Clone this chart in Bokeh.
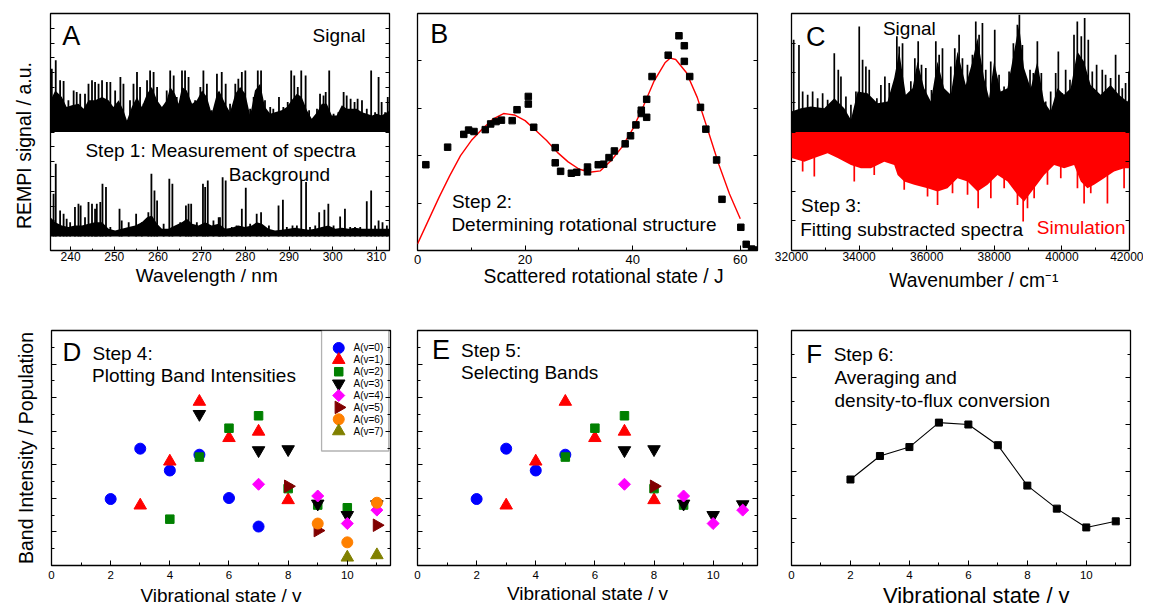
import math
from bokeh.plotting import figure
from bokeh.models import Range1d, LinearAxis, FixedTicker, Label, BoxAnnotation
from bokeh.layouts import row, column
from bokeh.embed import file_html
from bokeh.resources import INLINE

FONT = "Liberation Sans"
NB = "\u00a0"

# ---------------- Panel A: REMPI spectra (wavelength / nm) ----------------
a_sig_base = 8.0
a_sig_env_x = [235.4, 236.5, 238.0, 239.1, 240.3, 241.8, 243.0, 244.1, 245.6, 247.2, 248.7, 249.8,
               251.0, 252.1, 252.9, 254.0, 255.2, 256.3, 257.5, 258.6, 259.8, 260.9, 262.0, 262.8,
               263.9, 264.7, 265.5, 266.6, 267.8, 268.9, 270.1, 271.2, 272.3, 273.5,
               274.0, 275.4, 276.5, 277.7, 278.8, 280.0, 281.1, 282.2, 283.4, 284.5, 285.7, 286.8,
               288.3, 289.5, 290.6, 291.8, 292.9, 294.1, 295.2, 296.4, 297.5, 298.65, 299.8, 300.9,
               302.1, 303.2, 304.4, 305.5, 306.7, 307.8, 309.0, 310.1, 311.2, 312.4, 313.2]
a_sig_env_y = [10.14, 10.81, 10.36, 9.68, 9.80, 9.91, 9.57, 10.14, 10.14, 10.36, 10.14, 9.68,
               10.14, 9.46, 8.78, 9.68, 10.36, 9.68, 10.59, 11.03, 10.14, 9.68, 10.14, 11.03,
               10.59, 9.91, 11.03, 10.81, 9.91, 10.14, 10.81, 10.36, 9.23, 10.59,
               10.81, 9.91, 9.34, 10.59, 11.03, 10.59, 9.12, 10.81, 11.26, 9.68, 9.23, 9.34,
               9.46, 9.68, 10.14, 10.59, 10.36, 9.46, 8.89, 9.34, 9.91, 9.91, 9.12, 9.12,
               9.80, 9.57, 9.57, 9.57, 9.34, 9.23, 9.12, 9.23, 9.12, 9.34, 9.46]
a_sig_peak_x = [235.7, 236.6, 237.6, 238.4, 239.5, 240.7, 241.4, 242.2, 243.3, 244.1, 244.9, 245.6,
                246.4, 247.2, 248.3, 249.1, 250.2, 251.4, 252.1, 253.6, 254.4, 255.2, 255.9, 256.7,
                257.5, 258.2, 259.0, 259.8, 260.9, 262.0, 262.8, 263.6, 264.3, 265.5, 266.2, 267.0,
                268.5, 269.7, 270.4, 271.2, 272.3, 273.5,
                274.6, 275.5, 276.5, 277.7, 278.4, 279.2, 280.0, 281.1, 281.9, 282.85, 283.6, 284.5,
                285.7, 286.4, 287.7, 288.7, 289.7, 290.5, 291.2, 292.0, 292.8, 293.8, 294.6, 296.4,
                297.1, 297.9, 298.4, 299.2, 300.2, 301.3, 302.5, 303.2, 304.1, 305.0, 305.7, 306.7,
                307.8, 308.8, 309.7, 310.5, 311.2, 312.0, 312.6]
a_sig_peak_y = [12.27, 12.84, 11.49, 11.45, 10.14, 10.81, 10.70, 10.59, 10.59, 11.26, 11.49, 11.37,
                11.26, 11.49, 11.37, 11.37, 10.81, 11.71, 11.26, 10.14, 11.26, 12.05, 11.03, 9.91,
                11.49, 12.16, 12.05, 11.03, 9.68, 10.81, 12.16, 11.82, 10.36, 12.16, 12.16, 11.71,
                10.14, 11.03, 12.16, 11.26, 9.46, 11.94,
                12.05, 11.26, 9.91, 11.26, 11.60, 12.05, 12.16, 9.57, 10.36, 12.16, 12.16, 10.14,
                9.68, 9.57, 10.36, 9.68, 10.02, 12.16, 11.82, 11.03, 12.16, 11.82, 9.46, 9.57,
                10.59, 10.47, 10.70, 12.16, 9.23, 9.34, 10.70, 10.47, 10.25, 10.02, 10.25, 10.14,
                9.57, 12.16, 9.34, 11.71, 10.02, 9.34, 10.36]

a_bg_base = 0.95
a_bg_env_x = [235.4, 236.5, 238.0, 239.5, 241.0, 242.6, 244.1, 245.6, 247.2, 248.7, 250.2, 251.7,
              253.3, 254.8, 256.3, 257.5, 258.6, 259.8, 260.9, 262.4, 263.9, 265.5, 266.6, 267.8,
              269.3, 270.8, 272.3, 273.9,
              275.4, 276.9, 278.4, 279.9, 281.5, 282.6, 283.8, 285.3, 286.8, 288.3, 289.9, 291.4,
              292.9, 294.5, 296.0, 297.5, 299.0, 300.6, 302.1, 303.6, 305.1, 306.7, 308.2, 309.7,
              311.2, 313.2]
a_bg_env_y = [2.25, 1.91, 1.69, 1.58, 1.69, 1.69, 1.80, 1.91, 1.91, 1.46, 1.35, 1.46,
              1.58, 1.69, 1.91, 2.25, 2.36, 1.80, 1.46, 1.46, 1.69, 1.91, 2.14, 1.80,
              1.69, 1.91, 1.69, 1.80,
              1.46, 1.53, 1.69, 1.58, 1.69, 1.91, 1.80, 1.46, 1.35, 1.40, 1.46, 1.53,
              1.46, 1.40, 1.46, 1.58, 1.69, 1.46, 1.53, 1.46, 1.53, 1.46, 1.46, 1.46,
              1.46, 1.46]
a_bg_peak_x = [236.1, 236.6, 237.6, 238.4, 239.1, 239.9, 241.0, 241.8, 242.3, 243.3, 244.1, 244.9,
               245.6, 246.0, 246.8, 247.3, 248.1, 249.1, 251.2, 251.7, 253.3, 255.0, 256.3, 257.8,
               258.5, 259.2, 259.8, 261.3, 262.6, 263.3, 265.1, 266.4, 267.0, 267.6, 268.9, 270.3,
               270.8, 271.4, 272.7, 273.9,
               274.2, 274.8, 275.5, 276.9, 278.0, 279.2, 280.1, 281.1, 282.6, 283.6, 284.5, 285.4,
               287.6, 288.6, 289.5, 290.8, 291.8, 292.8, 293.9, 294.8, 296.0, 296.9, 298.1, 299.0,
               300.2, 301.7, 302.8, 304.0, 305.1, 306.3, 307.8, 308.8, 309.7, 310.5, 311.4, 312.4]
a_bg_peak_y = [3.83, 5.86, 2.70, 2.48, 2.14, 1.91, 2.93, 3.15, 3.04, 2.25, 3.27, 3.15,
               2.82, 3.15, 3.27, 4.50, 4.28, 1.58, 2.82, 2.03, 1.91, 2.48, 1.91, 2.59,
               5.18, 4.05, 3.38, 1.80, 4.84, 4.50, 1.91, 3.04, 3.15, 3.15, 1.91, 4.50,
               4.28, 4.73, 2.03, 2.25,
               2.25, 4.95, 4.73, 1.58, 1.69, 2.82, 4.23, 1.80, 2.48, 2.59, 1.58, 1.69,
               3.04, 3.42, 1.58, 1.69, 1.69, 4.77, 4.62, 1.58, 1.69, 2.59, 2.75, 3.15,
               1.69, 2.30, 2.82, 1.58, 1.58, 1.58, 3.33, 4.05, 1.69, 2.03, 1.91, 1.69]

# ---------------- Panel B: rotational distribution ----------------
b_j = [1.55, 5.6, 8.6, 9.5, 10.5, 12.6, 13.6, 14.6, 15.6, 17.6, 18.5, 20.6, 20.6, 21.6, 25.6, 25.6,
       26.6, 28.6, 29.6, 31.6, 31.6, 33.6, 34.6, 35.6, 36.6, 38.6, 39.6, 40.6, 41.6, 41.6, 42.6,
       42.6, 43.6, 46.6, 48.6, 49.6, 49.6, 50.6, 52.6, 53.6, 55.6, 56.6, 60.1, 61.1, 62.1, 62.9]
b_pop = [1.81, 2.18, 2.45, 2.54, 2.51, 2.55, 2.67, 2.72, 2.75, 2.74, 2.97, 3.25, 3.09, 2.60, 2.17,
         1.85, 1.67, 1.63, 1.65, 1.76, 1.66, 1.81, 1.82, 1.96, 2.10, 2.25, 2.42, 2.65, 2.96, 2.89,
         3.19, 2.81, 3.67, 4.12, 4.53, 4.32, 3.99, 3.67, 3.02, 2.56, 1.91, 1.08, 0.49, 0.13, 0.03,
         0.01]
b_fit_j = [0, 2, 4, 6, 8, 10, 12, 14, 16, 18, 20, 22, 24, 26, 28, 30, 32, 34, 36, 38, 40, 42, 44,
           46, 47, 48, 50, 52, 54, 56, 58, 60]
b_fit_y = [0.14, 0.63, 1.12, 1.58, 2.00, 2.32, 2.56, 2.77, 2.89, 2.86, 2.74, 2.53, 2.32, 2.07, 1.87,
           1.72, 1.65, 1.68, 1.90, 2.18, 2.56, 3.05, 3.58, 3.96, 4.06, 4.03, 3.75, 3.23, 2.53, 1.82,
           1.19, 0.67]

# ---------------- Panel C: signal vs simulation (wavenumber) ----------------
c_sig_env_x = [32000, 32281, 32576, 32970, 33266, 33561, 33758, 33955, 34251, 34546, 34842, 35039,
               35186, 35383, 35580, 35728, 35925, 36122, 36319, 36516, 36713, 36910, 37156, 37353,
               37501, 37698, 37846, 37994, 38190, 38388, 38585, 38732, 38880, 39077, 39274, 39471,
               39668, 39865, 40062, 40259, 40456, 40653, 40850, 41146, 41441, 41687, 41934, 42000]
c_sig_env_y = [0.69, 0.80, 0.86, 0.80, 1.14, 0.80, 0.41, 1.37, 1.31, 0.97, 1.03, 1.82,
               2.72, 1.26, 1.48, 2.38, 1.48, 1.03, 2.38, 1.48, 1.26, 2.72, 1.59, 2.38,
               3.17, 1.82, 1.14, 2.38, 1.37, 1.48, 2.72, 3.62, 2.16, 1.48, 2.38, 1.03,
               0.69, 1.48, 1.26, 1.48, 2.72, 2.38, 1.59, 1.26, 1.59, 1.26, 1.03, 1.14]
c_sig_peak_x = [32064, 32221, 32330, 32478, 32625, 32773, 32921, 33069, 33266, 33384, 33463, 33610,
                33758, 33906, 34004, 34103, 34201, 34300, 34398, 34526, 34645, 34763, 34891, 34989,
                35117, 35186, 35285, 35433, 35531, 35649, 35748, 35846, 35974, 36142, 36270, 36368,
                36467, 36595, 36713, 36831, 36959, 37058, 37206, 37353, 37452, 37550, 37649, 37747,
                37895, 38013, 38141, 38289, 38437, 38565, 38683, 38742, 38831, 38959, 39057, 39156,
                39274, 39392, 39520, 39668, 39816, 39895, 40013, 40111, 40239, 40358, 40456, 40574,
                40673, 40781, 40899, 41027, 41195, 41293, 41441, 41589, 41687, 41786, 41884, 41983]
c_sig_peak_y = [3.11, 2.94, 1.37, 1.26, 1.37, 1.14, 1.31, 1.09, 2.66, 2.10, 1.87, 1.20,
                0.92, 1.37, 3.56, 2.44, 2.21, 2.10, 1.09, 1.14, 1.59, 1.87, 1.65, 1.03,
                3.23, 2.89, 3.00, 1.20, 1.71, 2.49, 3.06, 2.27, 2.16, 1.42, 3.06, 2.61,
                2.83, 1.26, 2.21, 2.83, 3.28, 2.49, 2.27, 2.61, 3.73, 3.28, 3.68, 2.10,
                2.38, 3.45, 1.93, 1.54, 2.04, 3.00, 3.62, 3.96, 2.94, 1.54, 2.10, 1.99,
                3.06, 1.99, 1.03, 1.37, 1.99, 2.72, 1.31, 2.10, 1.76, 3.28, 3.73, 3.23,
                3.85, 3.11, 2.04, 2.27, 2.10, 1.93, 1.82, 2.61, 1.93, 1.48, 1.65, 2.04]
c_sim_env_x = [32000, 32379, 32675, 33069, 33365, 33759, 34054, 34350, 34744, 35039, 35138, 35335,
               35631, 36025, 36321, 36616, 36912, 37208, 37503, 37799, 38095, 38391, 38686, 38883,
               39179, 39475, 39770, 40066, 40361, 40558, 40755, 40952, 41248, 41544, 41840, 42000]
c_sim_env_y = [-0.88, -1.00, -0.88, -0.72, -0.88, -1.11, -1.22, -1.22, -1.00, -1.11, -1.45, -1.67,
               -1.78, -1.90, -2.01, -1.90, -1.56, -1.67, -2.01, -1.78, -1.45, -1.67, -2.12, -2.35,
               -1.90, -1.45, -1.11, -1.22, -1.11, -1.67, -1.90, -1.78, -1.56, -1.33, -1.22, -1.22]
c_sim_peak_x = [32330, 32675, 33857, 34448, 35335, 36025, 36321, 36764, 37208, 37523, 37898, 38292,
                38686, 38854, 38982, 39179, 39573, 39967, 40460, 40657, 40854, 41347, 41840]
c_sim_peak_y = [-1.33, -1.50, -1.67, -1.45, -1.95, -2.18, -2.46, -2.07, -2.12, -2.57, -2.24, -1.90,
                -2.46, -3.02, -2.57, -2.24, -1.78, -1.56, -1.90, -2.41, -2.07, -2.41, -1.90]

# ---------------- Panels D/E: band intensities per A-state vibrational level ----------------
band_labels = ["A(v=0)", "A(v=1)", "A(v=2)", "A(v=3)", "A(v=4)", "A(v=5)", "A(v=6)", "A(v=7)"]
v0_x = [2, 3, 4, 5, 6, 7];        v0_y = [1.98, 3.48, 2.83, 3.30, 2.01, 1.16]
v1_x = [3, 4, 5, 6, 7, 8];        v1_y = [1.79, 3.10, 4.88, 3.80, 3.99, 1.95]
v2_x = [4, 5, 6, 7, 8, 9, 10];    v2_y = [1.38, 3.23, 4.09, 4.46, 2.29, 1.80, 1.72]
v3_x = [5, 7, 8, 9, 10, 11];      v3_y = [4.51, 3.43, 3.46, 1.84, 1.50, 1.82]
v4_x = [7, 9, 10, 11];            v4_y = [2.42, 2.07, 1.25, 1.65]
v5_x = [8, 9, 11];                v5_y = [2.36, 1.04, 1.20]
v6_x = [9, 10, 11];               v6_y = [1.25, 0.69, 1.87]
v7_x = [10, 11];                  v7_y = [0.24, 0.31]
# states kept in step 5 (panel E)
sel_v0 = [2, 3, 4, 5]
sel_v1 = [3, 4, 5, 6, 7, 8]
sel_v2 = [5, 6, 7, 8, 9]
sel_v3 = [7, 8, 9, 10, 11]
sel_v4 = [7, 9, 10, 11]
sel_v5 = [8]
sel_v6 = []
sel_v7 = []

# ---------------- Panel F: averaged flux ----------------
f_v = [2, 3, 4, 5, 6, 7, 8, 9, 10, 11]
f_pop = [1.83, 2.33, 2.52, 3.04, 3.00, 2.56, 1.70, 1.21, 0.81, 0.94]

# ---------------- styling ----------------
series_xy = [(v0_x, v0_y), (v1_x, v1_y), (v2_x, v2_y), (v3_x, v3_y),
             (v4_x, v4_y), (v5_x, v5_y), (v6_x, v6_y), (v7_x, v7_y)]
series_sel = [sel_v0, sel_v1, sel_v2, sel_v3, sel_v4, sel_v5, sel_v6, sel_v7]
series_style = [("circle", "#0000FF", 11, 0.0),
                ("triangle", "#FF0000", 12.5, 0.0),
                ("square", "#008000", 8.5, 0.0),
                ("inverted_triangle", "#000000", 12.5, 0.0),
                ("square", "#FF00FF", 8.5, math.pi / 4),
                ("triangle", "#800000", 12.5, -math.pi / 2),
                ("circle", "#FF8000", 11, 0.0),
                ("triangle", "#808000", 12.5, 0.0)]


def make_fig(w, h, bl, br, bt, bb, xr, yr):
    p = figure(width=w, height=h, x_range=Range1d(*xr), y_range=Range1d(*yr),
               output_backend="svg", toolbar_location=None,
               x_axis_location=None, y_axis_location=None,
               min_border_left=bl, min_border_right=br,
               min_border_top=bt, min_border_bottom=bb)
    p.grid.visible = False
    p.outline_line_color = "black"
    p.outline_line_width = 1.3
    p.background_fill_color = "white"
    p.border_fill_color = "white"
    return p


def style_axis(ax):
    ax.major_tick_out = 0
    ax.minor_tick_out = 0
    ax.axis_line_color = None
    ax.major_tick_line_color = "black"
    ax.minor_tick_line_color = "black"
    ax.major_label_text_font = FONT
    ax.major_label_text_color = "black"
    ax.axis_label_text_font = FONT
    ax.axis_label_text_font_style = "normal"
    ax.axis_label_text_color = "black"
    ax.major_label_standoff = 0
    ax.axis_label_standoff = 0


def add_x(p, xt, xm, xlabel, tick_size, tick_so, lab_so, lab_size, maj=5, mnr=3):
    xb = LinearAxis(ticker=FixedTicker(ticks=xt, minor_ticks=xm), axis_label=xlabel)
    style_axis(xb)
    xb.major_tick_in = maj
    xb.minor_tick_in = mnr
    xb.major_label_text_font_size = tick_size
    xb.major_label_standoff = tick_so
    xb.axis_label_standoff = lab_so
    xb.axis_label_text_font_size = lab_size
    p.add_layout(xb, "below")


def add_y(p, long_ticks, short_ticks, long_len, short_len, ylabel=None, ylab_so=0):
    # tick marks only (no tick labels), mirrored left and right
    for side in ("left", "right"):
        groups = [(long_ticks, long_len), (short_ticks, short_len)]
        groups = [g for g in groups if g[0]]
        for k, (tk, ln) in enumerate(groups):
            ya = LinearAxis(ticker=FixedTicker(ticks=[], minor_ticks=tk))
            style_axis(ya)
            ya.minor_tick_in = ln
            if side == "left" and ylabel and k == len(groups) - 1:
                ya.axis_label = ylabel
                ya.axis_label_text_font_size = "19.5px"
                ya.axis_label_standoff = ylab_so
            p.add_layout(ya, side)


def txt(p, x, y, s, size="19px", color="black"):
    p.add_layout(Label(x=x, y=y, text=s, text_font=FONT, text_font_size=size,
                       text_color=color, text_baseline="middle", text_align="left"))


# ---------------- A ----------------
pA = make_fig(393, 304, 50, 4, 13, 54, (235.4, 313.0), (0, 16))
add_x(pA, list(range(240, 311, 10)), list(range(245, 311, 10)),
      "Wavelength / nm" + NB * 5, "12px", 1, 1, "19px", maj=4, mnr=2)
add_y(pA, list(range(1, 16)), [], 4, 0, ylabel="REMPI signal / a.u." + NB * 5, ylab_so=16)
pA.varea(x=a_sig_env_x, y1=a_sig_base, y2=a_sig_env_y, fill_color="black")
pA.segment(x0=a_sig_peak_x, y0=a_sig_base, x1=a_sig_peak_x, y1=a_sig_peak_y,
           line_color="black", line_width=1.8)
pA.varea(x=a_bg_env_x, y1=a_bg_base, y2=a_bg_env_y, fill_color="black")
pA.segment(x0=a_bg_peak_x, y0=a_bg_base, x1=a_bg_peak_x, y1=a_bg_peak_y,
           line_color="black", line_width=1.8)
txt(pA, 238.1, 14.49, "A", "27px")
txt(pA, 295.4, 14.49, "Signal")
txt(pA, 243.4, 6.78, "Step 1: Measurement of spectra")
txt(pA, 276.2, 5.12, "Background")

# ---------------- B ----------------
pB = make_fig(374, 304, 24, 10, 13, 54, (0, 63.2), (0, 5))
add_x(pB, [0, 20, 40, 60], [10, 30, 50],
      NB * 6 + "Scattered rotational state / J", "13px", 4, -1, "19.3px")
add_y(pB, [1, 2, 3, 4], [], 4, 0)
pB.line(b_fit_j, b_fit_y, line_color="#FF0000", line_width=1.4)
pB.scatter(b_j, b_pop, marker="square", size=6.5, color="black")
txt(pB, 2.36, 4.56, "B", "27px")
txt(pB, 6.40, 1.03, "Step 2:")
txt(pB, 6.30, 0.54, "Determining rotational structure")

# ---------------- C ----------------
pC = make_fig(376, 304, 24, 14, 13, 54, (32000, 42000), (-4, 4))
add_x(pC, list(range(32000, 42001, 2000)), list(range(33000, 42000, 2000)),
      NB * 5 + "Wavenumber / cm\u207b\u00b9", "12px", 1, 6, "19.3px")
add_y(pC, [-3, -2, -1, 0, 1, 2, 3], [], 4, 0)
pC.varea(x=c_sig_env_x, y1=0, y2=c_sig_env_y, fill_color="black")
pC.segment(x0=c_sig_peak_x, y0=0, x1=c_sig_peak_x, y1=c_sig_peak_y,
           line_color="black", line_width=1.7)
pC.varea(x=c_sim_env_x, y1=0, y2=c_sim_env_y, fill_color="#FF0000")
pC.segment(x0=c_sim_peak_x, y0=0, x1=c_sim_peak_x, y1=c_sim_peak_y,
           line_color="#FF0000", line_width=1.7)
txt(pC, 32429, 3.20, "C", "27px")
txt(pC, 34705, 3.49, "Signal")
txt(pC, 32281, -2.49, "Step 3:")
txt(pC, 32257, -3.30, "Fitting substracted spectra")
txt(pC, 39257, -3.22, "Simulation", color="#FF0000")

vib_t = [0, 2, 4, 6, 8, 10]
vib_m = [1, 3, 5, 7, 9, 11]
de_major = [1, 2, 3, 4, 5, 6]
de_minor = [0.5, 1.5, 2.5, 3.5, 4.5, 5.5, 6.5]

# ---------------- D ----------------
pD = make_fig(393, 306, 51, 3, 26, 42, (0, 11.46), (0, 7))
add_x(pD, vib_t, vib_m, "Vibrational state / v", "11.5px", 5, 3, "19px")
add_y(pD, de_major, de_minor, 5, 3, ylabel="Band Intensity / Population", ylab_so=15)
for (xs, ys), (mk, col, sz, ang) in zip(series_xy, series_style):
    pD.scatter(xs, ys, marker=mk, size=sz, angle=ang, fill_color=col, line_color=col)
# legend box (drawn from the series styles)
pD.add_layout(BoxAnnotation(left=9.13, right=11.40, bottom=3.41, top=7.0, level="underlay",
                            fill_color="white", fill_alpha=1.0, line_color="black",
                            line_width=1.3))
leg_x, leg_y0, leg_dy = 9.71, 6.48, 0.354
for i, (lab, (mk, col, sz, ang)) in enumerate(zip(band_labels, series_style)):
    yy = leg_y0 - i * leg_dy
    pD.scatter([leg_x], [yy], marker=mk, size=sz, angle=ang, fill_color=col, line_color=col)
    txt(pD, leg_x + 0.50, yy, lab, "10px")
txt(pD, 0.375, 6.35, "D", "26px")
txt(pD, 1.385, 6.31, "Step 4:")
txt(pD, 1.37, 5.65, "Plotting Band Intensities")

# ---------------- E ----------------
pE = make_fig(374, 306, 24, 10, 26, 42, (0, 11.5), (0, 7))
add_x(pE, vib_t, vib_m, "Vibrational state / v", "11.5px", 5, 1, "19px")
add_y(pE, de_major, de_minor, 5, 3)
for (xs, ys), sel, (mk, col, sz, ang) in zip(series_xy, series_sel, series_style):
    ex = [x for x in xs if x in sel]
    ey = [y for x, y in zip(xs, ys) if x in sel]
    if ex:
        pE.scatter(ex, ey, marker=mk, size=sz, angle=ang, fill_color=col, line_color=col)
txt(pE, 0.49, 6.42, "E", "27px")
txt(pE, 1.47, 6.39, "Step 5:")
txt(pE, 1.47, 5.75, "Selecting Bands")

# ---------------- F ----------------
pF = make_fig(376, 306, 24, 13, 26, 42, (0, 11.5), (0, 5))
add_x(pF, vib_t, vib_m, NB * 5 + "Vibrational state / v", "11.5px", 5, 1, "22px")
add_y(pF, [1, 2, 3, 4], [0.5, 1.5, 2.5, 3.5, 4.5], 5, 3)
pF.line(f_v, f_pop, line_color="black", line_width=1.1)
pF.scatter(f_v, f_pop, marker="square", size=7, color="black")
txt(pF, 0.50, 4.49, "F", "26px")
txt(pF, 1.43, 4.49, "Step 6:")
txt(pF, 1.46, 4.00, "Averaging and")
txt(pF, 1.46, 3.52, "density-to-flux conversion")

layout = column(row(pA, pB, pC), row(pD, pE, pF))
open("out.html", "w").write(file_html(layout, INLINE))
